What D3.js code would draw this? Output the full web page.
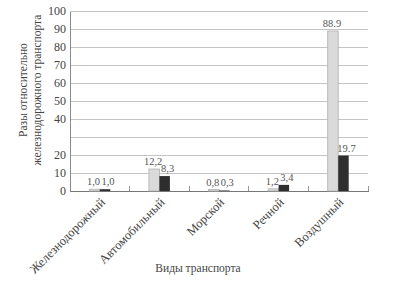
<!DOCTYPE html>
<html><head><meta charset="utf-8">
<script src="https://cdn.jsdelivr.net/npm/d3@7"></script>
<style>html,body{margin:0;padding:0;background:#fff;}svg{display:block;}</style>
</head><body><svg id="c" width="394" height="281"></svg>
<script>
const categories = ["Железнодорожный","Автомобильный","Морской","Речной","Воздушный"];
const seriesLight = [1.0, 12.2, 0.8, 1.2, 88.9];
const seriesDark = [1.0, 8.3, 0.3, 3.4, 19.7];
const labelsLight = ["1,0","12,2","0,8","1,2","88.9"];
const labelsDark = ["1,0","8,3","0,3","3,4","19.7"];
const yTickLabels = [0,10,20,40,50,60,70,80,90,100];
const gridValues = [10,20,30,40,50,60,70,80,90,100];
const yTitle = ["Разы относительно","железнодорожного транспорта"];
const xTitle = "Виды транспорта";

const svg = d3.select("#c");
const font = "'Liberation Serif','DejaVu Serif',serif";
const L = 70, R = 368, T = 11, B = 191;
const x = d3.scaleBand().domain(categories).range([L, R]).paddingInner(0).paddingOuter(0);
const y = d3.scaleLinear().domain([0, 100]).range([B, T]);
const bw = 10.5;
const x1 = d3.scaleBand().domain(["light","dark"]).range([x.bandwidth()/2 - bw, x.bandwidth()/2 + bw]);

// gridlines
svg.append("g").selectAll("line").data(gridValues).join("line")
  .attr("x1", L).attr("x2", R).attr("y1", d => y(d)).attr("y2", d => y(d))
  .attr("stroke", "#c4c4c4").attr("stroke-width", 1).attr("shape-rendering","crispEdges");

// y axis
const yAxis = d3.axisLeft(y).tickValues(yTickLabels).tickSize(0).tickPadding(4).tickFormat(d3.format("d"));
const gy = svg.append("g").attr("transform", `translate(${L},0)`).call(yAxis);
gy.select(".domain").attr("stroke", "#8a8a8a").attr("shape-rendering","crispEdges");
gy.selectAll("text").attr("font-family", font).attr("font-size", 12).attr("fill", "#444");

// x axis
const xAxis = d3.axisBottom(x).tickSize(0).tickPadding(0);
const gx = svg.append("g").attr("transform", `translate(0,${B})`).call(xAxis);
gx.select(".domain").attr("stroke", "#777").attr("shape-rendering","crispEdges");
gx.selectAll("text").attr("font-family", font).attr("font-size", 12.5).attr("fill", "#444")
  .attr("text-anchor", "end").attr("x", 0).attr("y", 0).attr("dy", "0.35em")
  .attr("transform", "translate(3,9) rotate(-45)");
// boundary ticks (upward)
const bounds = categories.map(c => x(c)).slice(1).concat([R]);
svg.append("g").selectAll("line").data(bounds).join("line")
  .attr("x1", d => d).attr("x2", d => d).attr("y1", B - 5).attr("y2", B)
  .attr("stroke", "#999").attr("shape-rendering","crispEdges");

// bars
const g = svg.append("g");
g.selectAll("rect.l").data(categories).join("rect").attr("class","l")
  .attr("x", (c) => x(c) + x1("light")).attr("width", x1.bandwidth())
  .attr("y", (c,i) => y(seriesLight[i])).attr("height", (c,i) => B - y(seriesLight[i]))
  .attr("fill", "#dadada").attr("stroke", "#b0b0b0").attr("stroke-width", 0.8);
g.selectAll("rect.d").data(categories).join("rect").attr("class","d")
  .attr("x", (c) => x(c) + x1("dark")).attr("width", x1.bandwidth())
  .attr("y", (c,i) => y(seriesDark[i])).attr("height", (c,i) => B - y(seriesDark[i]))
  .attr("fill", "#2e2e2e");

// value labels
g.selectAll("text.l").data(categories).join("text").attr("class","l")
  .attr("x", c => x(c) + x1("light") + x1.bandwidth()/2 - 1)
  .attr("y", (c,i) => y(seriesLight[i]) - 4)
  .attr("text-anchor","middle").attr("font-family", font).attr("font-size", 10.5).attr("fill","#555")
  .text((c,i) => labelsLight[i]);
g.selectAll("text.d").data(categories).join("text").attr("class","d")
  .attr("x", c => x(c) + x1("dark") + x1.bandwidth()/2 + 3)
  .attr("y", (c,i) => y(seriesDark[i]) - 4)
  .attr("text-anchor","middle").attr("font-family", font).attr("font-size", 10.5).attr("fill","#555")
  .text((c,i) => labelsDark[i]);

// y title
const yt = svg.append("text").attr("transform", "translate(27,90) rotate(-90)")
  .attr("text-anchor","middle").attr("font-family", font).attr("font-size", 11.5).attr("fill","#444");
yt.selectAll("tspan").data(yTitle).join("tspan").attr("x", 0).attr("dy", (d,i) => i ? 14 : 0).text(d => d);

// x title
svg.append("text").attr("x", 198).attr("y", 272).attr("text-anchor","middle")
  .attr("font-family", font).attr("font-size", 11.5).attr("fill","#444").text(xTitle);
</script></body></html>
